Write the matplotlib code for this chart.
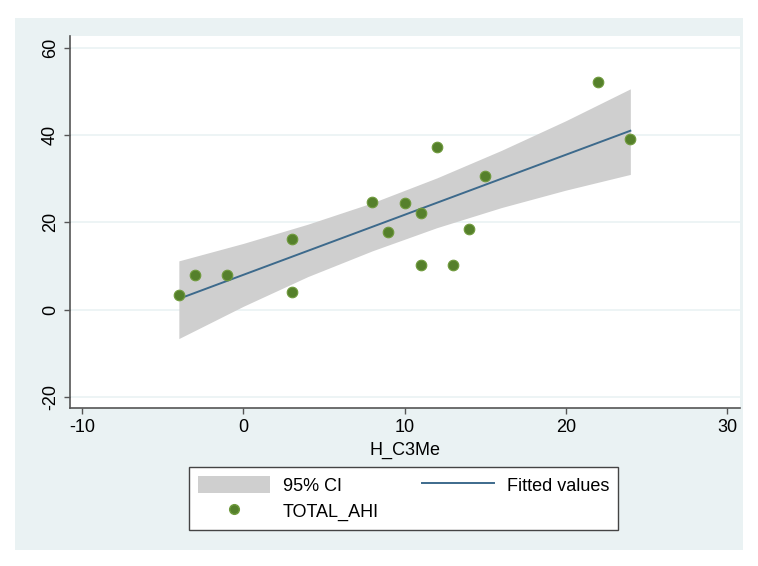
import matplotlib
matplotlib.use("Agg")
import matplotlib.pyplot as plt
from matplotlib.patches import Rectangle, Patch
from matplotlib.lines import Line2D

plt.rcParams['font.family'] = ['Liberation Sans', 'DejaVu Sans']
plt.rcParams['axes.unicode_minus'] = False

# scatter data
h_c3me = [-4, -3, -1, 3, 3, 8, 9, 10, 11, 11, 12, 13, 14, 15, 22, 24]
total_ahi = [3.4, 8.0, 8.0, 16.2, 4.1, 24.7, 17.8, 24.5, 22.2, 10.3,
             37.3, 10.3, 18.5, 30.7, 52.2, 39.1]

# fitted line and 95% CI band, read at a few x positions
fit_x = [-4, 0, 4, 8, 12, 16, 20, 24]
fit_y = [2.5, 8.0, 13.5, 19.0, 24.5, 30.0, 35.5, 41.0]
ci_upper = [11.2, 15.2, 19.6, 24.5, 30.2, 36.5, 43.3, 50.6]
ci_lower = [-6.6, 0.8, 7.6, 13.5, 18.8, 23.4, 27.4, 31.0]

x_ticks = [-10, 0, 10, 20, 30]
y_ticks = [-20, 0, 20, 40, 60]

W, H = 758, 566
bg = '#eaf2f3'
green = '#55802b'
navy = '#3d6a8c'
band = '#cfcfcf'

fig = plt.figure(figsize=(W / 100, H / 100), dpi=100)
fig.patch.set_facecolor('white')
fig.patches.append(Rectangle((15 / W, (H - 550) / H), 728 / W, 532 / H,
                             transform=fig.transFigure, facecolor=bg,
                             edgecolor='none', zorder=-10))

ax = fig.add_axes([70 / W, (H - 408) / H, 670 / W, 372 / H])
ax.set_zorder(1)
ax.set_facecolor('white')

ax.fill_between(fit_x, ci_lower, ci_upper, color=band, linewidth=0, zorder=2)
ax.plot(fit_x, fit_y, color=navy, linewidth=1.4, zorder=3)
ax.scatter(h_c3me, total_ahi, s=58, color=green, edgecolors='#6f9a3c',
           linewidths=0.8, zorder=4)

ax.set_xlim(-10.75, 30.8)
ax.set_ylim(-22.5, 62.7)
ax.set_xticks(x_ticks)
ax.set_yticks(y_ticks)
ax.set_yticklabels([str(v) for v in y_ticks], rotation=90, va='center')
ax.tick_params(axis='both', labelsize=13, length=4, width=1,
               color='#555555', pad=4)
ax.grid(axis='y', color=bg, linewidth=1.2, zorder=1)
ax.set_axisbelow(True)

for side in ['top', 'right']:
    ax.spines[side].set_visible(False)
for side in ['left', 'bottom']:
    ax.spines[side].set_color('#555555')
    ax.spines[side].set_linewidth(1.2)

ax.set_xlabel('H_C3Me', fontsize=13, labelpad=4)

handles = [Patch(facecolor=band, edgecolor='none'),
           Line2D([], [], marker='o', linestyle='none', markersize=7,
                  markerfacecolor=green, markeredgecolor='#6f9a3c'),
           Line2D([], [], color=navy, linewidth=1.4)]
labels = ['95% CI', 'TOTAL_AHI', 'Fitted values']
leg = fig.legend(handles, labels, ncol=2, loc='center',
                 bbox_to_anchor=((189 + 618) / 2 / W, 1 - (467 + 530) / 2 / H),
                 fontsize=13, frameon=True, fancybox=False, framealpha=1,
                 facecolor='white',
                 handlelength=4.0, handleheight=1.1, handletextpad=0.7,
                 columnspacing=2.4, labelspacing=0.4, borderpad=0.5)
leg.get_frame().set_edgecolor('#444444')
leg.get_frame().set_linewidth(1.0)

fig.savefig('out.png', dpi=100, facecolor=fig.get_facecolor())
